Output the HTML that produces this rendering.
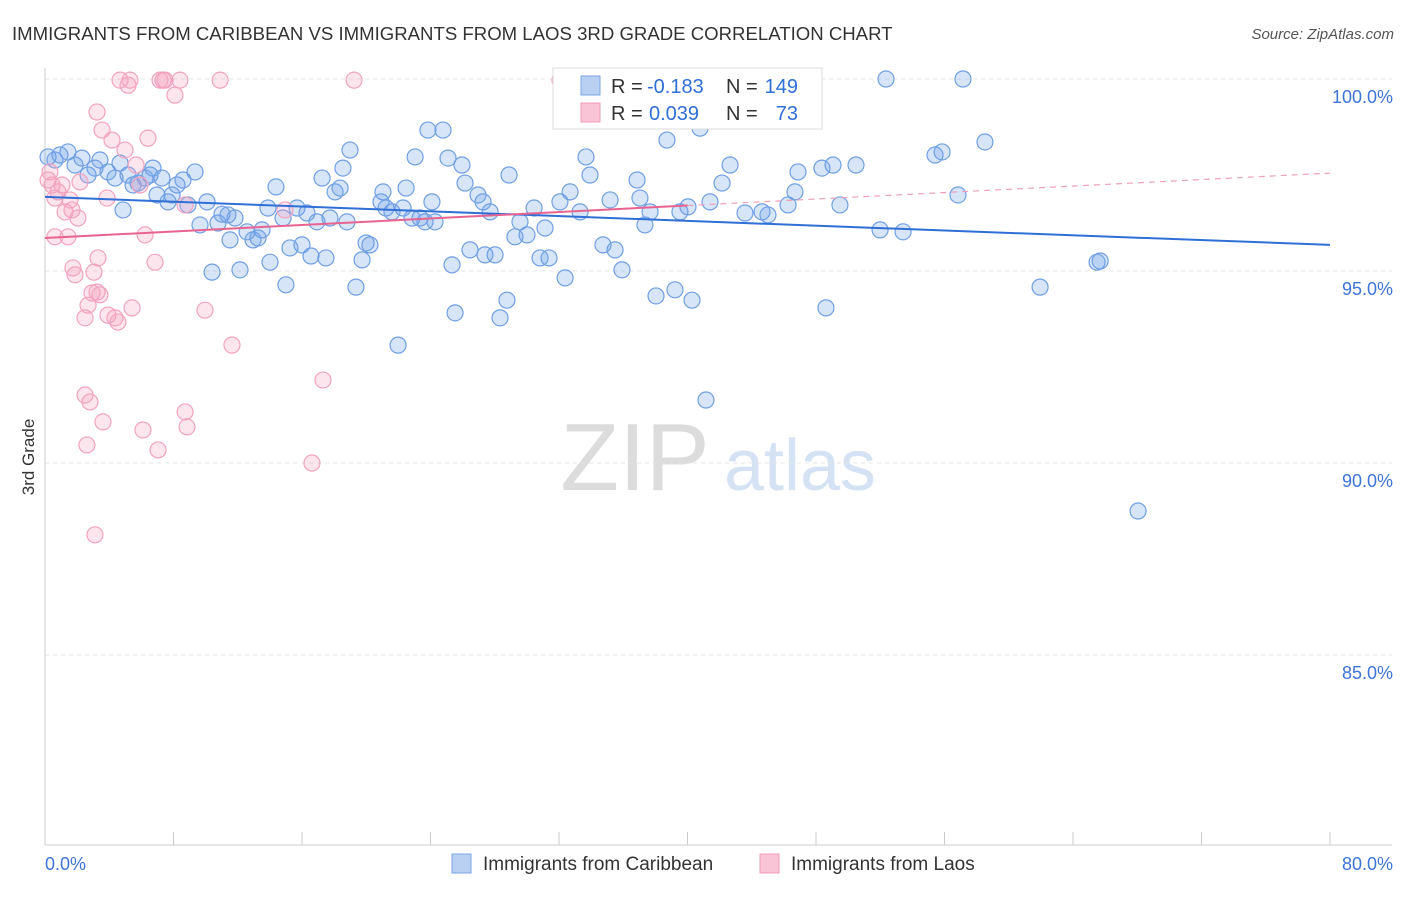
<!DOCTYPE html>
<html><head><meta charset="utf-8">
<style>
body{margin:0;background:#fff;font-family:"Liberation Sans",sans-serif;}
svg text{font-family:"Liberation Sans",sans-serif;}
</style></head>
<body>
<svg id="chart" width="1406" height="892" xmlns="http://www.w3.org/2000/svg">
<text x="12" y="40" font-size="18.6" fill="#333">IMMIGRANTS FROM CARIBBEAN VS IMMIGRANTS FROM LAOS 3RD GRADE CORRELATION CHART</text>
<text x="1394" y="39" font-size="15" fill="#555" text-anchor="end" font-style="italic">Source: ZipAtlas.com</text>
<text x="34" y="457" font-size="17" fill="#333" text-anchor="middle" transform="rotate(-90 34 457)">3rd Grade</text>
<g>
<text x="635" y="490" font-size="96" fill="#dcdcdc" text-anchor="middle" font-family="Liberation Serif,serif">ZIP</text>
<text x="800" y="490" font-size="72" fill="#d5e2f3" text-anchor="middle">atlas</text>
</g>
<g id="grid"></g>
<g id="axes"></g>
<g id="pts"></g>
<g id="trend"></g>
<g>
<rect x="553" y="68" width="269" height="61" fill="#fff" stroke="#ddd"/>
<rect x="581" y="76" width="19" height="19" fill="#b9d0f2" stroke="#7aa5e5"/>
<rect x="581" y="103" width="19" height="19" fill="#f8c4d6" stroke="#f09cb9"/>
<text x="611" y="93" font-size="20" fill="#333">R =</text>
<text x="647" y="93" font-size="20" fill="#2f6fd6">-0.183</text>
<text x="726" y="93" font-size="20" fill="#333">N =</text>
<text x="798" y="93" font-size="20" fill="#2f6fd6" text-anchor="end">149</text>
<text x="611" y="120" font-size="20" fill="#333">R =</text>
<text x="649" y="120" font-size="20" fill="#2f6fd6">0.039</text>
<text x="726" y="120" font-size="20" fill="#333">N =</text>
<text x="798" y="120" font-size="20" fill="#2f6fd6" text-anchor="end">73</text>
</g>
<g>
<rect x="452" y="854" width="19" height="19" fill="#b9d0f2" stroke="#7aa5e5"/>
<text x="483" y="870" font-size="19" fill="#333">Immigrants from Caribbean</text>
<rect x="760" y="854" width="19" height="19" fill="#f8c4d6" stroke="#f09cb9"/>
<text x="791" y="870" font-size="19" fill="#333">Immigrants from Laos</text>
</g>
</svg>
<script>
const yTicks=[100,95,90,85];
const yTickLabels=["100.0%","95.0%","90.0%","85.0%"];
const xTickLabels=["0.0%","80.0%"];
const blueX=[0.19,0.62,0.93,1.43,1.87,2.30,2.68,3.11,3.42,3.92,4.36,4.67,4.86,5.17,5.48,5.79,6.23,6.54,6.72,6.97,7.28,7.66,7.91,8.22,8.59,8.90,9.34,9.65,10.09,10.40,10.77,11.02,11.39,11.52,11.83,12.14,12.58,12.95,13.26,13.51,13.88,14.01,14.38,14.82,15.00,15.25,15.69,16.00,16.31,16.56,16.93,17.25,17.49,17.74,18.06,18.37,18.55,18.80,18.99,19.36,19.74,19.99,20.23,20.92,21.04,21.23,21.60,21.98,22.29,22.48,22.85,23.04,23.35,23.66,23.84,24.09,24.28,24.78,25.09,25.34,25.53,25.96,26.15,26.46,26.96,27.27,27.39,27.71,28.02,28.33,28.76,28.89,29.26,29.57,30.01,30.45,30.82,31.13,31.38,32.06,32.38,32.69,33.31,33.68,33.93,34.74,35.18,35.49,35.92,36.86,37.04,37.35,37.67,38.04,38.72,39.22,39.53,40.03,40.28,40.78,41.15,41.40,42.15,42.65,43.58,44.64,45.01,46.26,46.69,46.88,48.37,48.62,49.06,49.49,50.49,51.99,52.36,53.42,55.41,55.85,56.84,57.15,58.52,61.95,65.50,65.69,68.05];
const blueY=[97.97,97.89,98.02,98.10,97.76,97.94,97.50,97.68,97.89,97.58,97.42,97.81,96.59,97.50,97.24,97.29,97.42,97.50,97.68,96.98,97.42,96.80,96.98,97.24,97.37,96.72,97.58,96.20,96.80,94.97,96.25,96.48,96.46,95.81,96.38,95.03,96.02,95.81,95.86,96.07,96.64,95.23,97.19,96.38,94.64,95.60,96.64,95.68,96.51,95.39,96.28,97.42,95.34,96.38,97.06,97.16,97.68,96.28,98.15,94.58,95.29,95.73,95.68,96.80,97.06,96.64,96.54,93.07,96.64,97.16,96.38,97.97,96.38,96.28,98.67,96.80,96.28,98.67,97.94,95.16,93.91,97.76,97.29,95.55,96.98,96.80,95.42,96.54,95.42,93.78,94.24,97.50,95.89,96.28,95.94,96.64,95.34,96.12,95.34,96.80,94.82,97.06,96.54,97.97,97.50,95.68,96.85,95.55,95.03,97.37,96.90,96.20,96.54,94.35,98.41,94.51,96.54,96.67,94.24,98.72,91.64,96.80,97.29,97.76,96.51,96.54,96.46,96.72,97.06,97.58,97.68,94.04,97.76,96.72,97.76,96.07,100.0,96.02,98.02,98.10,96.98,100.0,98.36,94.58,95.23,95.26,88.75];
const pinkX=[0.19,0.31,0.44,0.62,0.62,0.81,1.06,1.25,1.43,1.56,1.68,1.74,1.87,2.05,2.18,2.49,2.49,2.61,2.68,2.80,2.93,3.05,3.11,3.24,3.24,3.30,3.42,3.55,3.61,3.86,3.92,4.17,4.36,4.54,4.67,4.98,5.17,5.29,5.42,5.67,5.91,6.10,6.23,6.41,6.85,7.04,7.16,7.35,7.47,8.09,8.40,8.72,8.72,8.84,9.96,10.90,11.64,14.94,16.62,17.31,19.24,32.06];
const pinkY=[97.37,97.58,97.24,95.89,96.90,97.06,97.24,96.54,95.89,96.85,96.59,95.08,94.90,96.38,97.32,93.78,91.77,90.47,94.11,91.59,94.43,94.97,88.13,94.45,99.14,95.34,94.38,98.67,91.07,96.90,93.85,98.41,93.78,93.67,99.97,98.15,99.84,99.97,94.04,97.76,97.24,90.86,95.94,98.46,95.23,90.34,99.97,99.97,99.97,99.58,99.97,96.72,91.33,90.94,93.98,99.97,93.07,96.59,90.0,92.16,99.97,99.97];
const blueTrend=[96.93,95.68];
const pinkTrend=[95.86,97.55];
const pinkSolidEnd=40;

const X0=45,X1=1330,Ytop=79,pxPerPct=38.4;
const xs=v=>X0+v*(X1-X0)/80;
const ys=v=>Ytop+(100-v)*pxPerPct;
const NS="http://www.w3.org/2000/svg";
function mk(tag,attrs,parent){const e=document.createElementNS(NS,tag);for(const k in attrs)e.setAttribute(k,attrs[k]);parent.appendChild(e);return e;}
const grid=document.getElementById('grid'),axes=document.getElementById('axes'),pts=document.getElementById('pts'),trend=document.getElementById('trend');
yTicks.forEach((t,i)=>{
  const l=mk('line',{x1:X0,x2:1392,y1:ys(t),y2:ys(t),stroke:'#e4e4e4','stroke-dasharray':'4 4'},grid);
  
  
  const tx=mk('text',{x:1393,y:ys(t)+24,'font-size':18,fill:'#3d75d6','text-anchor':'end'},axes);
  tx.textContent=yTickLabels[i];
  
  
});
const ax=mk('line',{x1:X0,x2:X0,y1:68,y2:845,stroke:'#ccc'},axes);


const bx=mk('line',{x1:X0,x2:1392,y1:845,y2:845,stroke:'#ccc'},axes);


for(let i=0;i<=10;i++){
  const t=mk('line',{x1:xs(i*8),x2:xs(i*8),y1:832,y2:845,stroke:'#ccc'},axes);
  
  
}
[[0,'start',45],[80,'end',1393]].forEach((d,i)=>{
  const t=mk('text',{x:d[2],y:870,'font-size':18,fill:'#3d75d6','text-anchor':d[1]},axes);
  t.textContent=xTickLabels[i];
  
  
});
blueX.forEach((v,i)=>{
  const c=mk('circle',{cx:xs(v),cy:ys(blueY[i]),r:8,fill:'rgba(110,160,235,0.28)',stroke:'#6f9fe3','stroke-width':1.2},pts);
  
  
});
pinkX.forEach((v,i)=>{
  const c=mk('circle',{cx:xs(v),cy:ys(pinkY[i]),r:8,fill:'rgba(245,160,190,0.28)',stroke:'#f2a3bf','stroke-width':1.2},pts);
  
  
});
const bl=mk('line',{x1:xs(0),y1:ys(blueTrend[0]),x2:xs(80),y2:ys(blueTrend[1]),stroke:'#2f6fd6','stroke-width':2},trend);


const pm=pinkTrend[0]+(pinkTrend[1]-pinkTrend[0])*pinkSolidEnd/80;
const pl=mk('line',{x1:xs(0),y1:ys(pinkTrend[0]),x2:xs(pinkSolidEnd),y2:ys(pm),stroke:'#e8638f','stroke-width':2},trend);


const pd=mk('line',{x1:xs(pinkSolidEnd),y1:ys(pm),x2:xs(80),y2:ys(pinkTrend[1]),stroke:'#eea0b9','stroke-width':1.2,'stroke-dasharray':'6 5'},trend);


</script>
</body></html>
